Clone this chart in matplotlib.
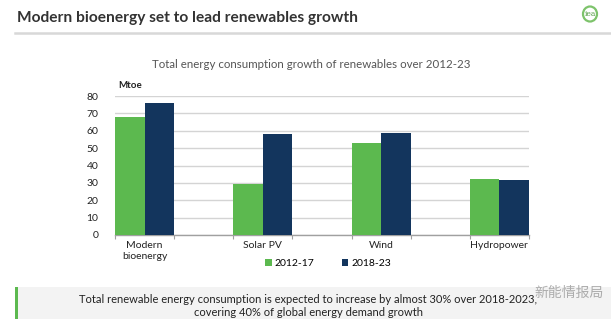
import matplotlib
matplotlib.use("Agg")
import matplotlib.pyplot as plt
import matplotlib.patches as mpatches
import numpy as np

categories = ["Modern\nbioenergy", "Solar PV", "Wind", "Hydropower"]
series_names = ["2012-17", "2018-23"]
values_2012_17 = [68, 29.5, 53, 32]
values_2018_23 = [76, 58, 58.5, 31.5]
yticks = [0, 10, 20, 30, 40, 50, 60, 70, 80]

GREEN = "#5cb94f"
NAVY = "#13355d"

plt.rcParams['font.family'] = ['Lato', 'DejaVu Sans']

W, H = 611, 329
fig = plt.figure(figsize=(W / 100, H / 100), dpi=100)
fig.patch.set_facecolor("white")

def fx(px):
    return px / W

def fy(py):
    return 1 - py / H

# Header
fig.text(fx(17), fy(18), "Modern bioenergy set to lead renewables growth",
         fontsize=11.2, fontweight="bold", color="#333333", va="center", ha="left")
fig.add_artist(plt.Line2D([fx(15), 1.0], [fy(33), fy(33)], color="#d8d8d8", lw=1.8))
# IEA logo
logo = mpatches.Ellipse((fx(590), fy(14)), 14 / W, 15 / H, transform=fig.transFigure,
                        facecolor="white", edgecolor="#7dc36b", lw=1.6)
fig.add_artist(logo)
fig.text(fx(590.5), fy(14.5), "iea", fontsize=5.5, color="#4f9a3f", ha="center", va="center",
         family=["DejaVu Serif"])

# Chart title
fig.text(fx(311), fy(65), "Total energy consumption growth of renewables over 2012-23",
         fontsize=8.3, color="#555555", ha="center", va="center")
fig.text(fx(118), fy(85), "Mtoe", fontsize=7, fontweight="bold", color="#222222",
         ha="left", va="center")

ax = fig.add_axes([fx(115), fy(235), fx(529) - fx(115), fy(96) - fy(235)])
x = np.arange(len(categories))
bw = 0.25
b1 = ax.bar(x - bw / 2, values_2012_17, width=bw, color=GREEN, label=series_names[0], zorder=3)
b2 = ax.bar(x + bw / 2, values_2018_23, width=bw, color=NAVY, label=series_names[1], zorder=3)
ax.set_xlim(-0.25, len(categories) - 0.75)
ax.set_ylim(0, 80)
ax.set_yticks(yticks)
ax.set_yticklabels([str(v) for v in yticks], fontsize=7.5, color="#222222")
ax.yaxis.grid(True, color="#d4d4d4", lw=1.0, zorder=0)
ax.tick_params(axis="y", length=0, pad=12)
for s in ["top", "right", "left"]:
    ax.spines[s].set_visible(False)
ax.spines["bottom"].set_color("#a0a0a0")
ax.spines["bottom"].set_linewidth(1.0)
edges = sorted(list(x - 0.25) + list(x + 0.25))
ax.set_xticks(edges)
ax.set_xticklabels([""] * len(edges))
ax.tick_params(axis="x", which="major", length=3, color="#a0a0a0")
ax.set_xticks(x, minor=True)
ax.set_xticklabels(categories, minor=True, fontsize=7.5, color="#222222", linespacing=1.4)
ax.tick_params(axis="x", which="minor", length=0, pad=4)

fig.legend(handles=[b1, b2], labels=series_names, ncol=2, loc="center",
           bbox_to_anchor=(fx(328), fy(263.5)), frameon=False, fontsize=7.5,
           handlelength=0.65, handleheight=0.65, columnspacing=2.6, handletextpad=0.3,
           borderpad=0)

# Bottom banner
banner = mpatches.Rectangle((fx(15), fy(319)), 1 - fx(15), fy(287) - fy(319),
                            transform=fig.transFigure, facecolor="#f3f3f3", edgecolor="none")
fig.add_artist(banner)
bar = mpatches.Rectangle((fx(15), fy(319)), fx(18) - fx(15), fy(287) - fy(319),
                         transform=fig.transFigure, facecolor="#5cb94f", edgecolor="none")
fig.add_artist(bar)
fig.text(fx(308), fy(306), "Total renewable energy consumption is expected to increase by almost 30% over 2018-2023,\ncovering 40% of global energy demand growth",
         fontsize=8, color="#222222", ha="center", va="center", linespacing=1.25)
fig.text(fx(604), fy(293), "新能情报局", fontsize=10, color="#9a9a9a", alpha=0.8,
         ha="right", va="center", family=["Noto Sans CJK SC", "DejaVu Sans"])

fig.savefig("out.png", dpi=100, facecolor="white")
